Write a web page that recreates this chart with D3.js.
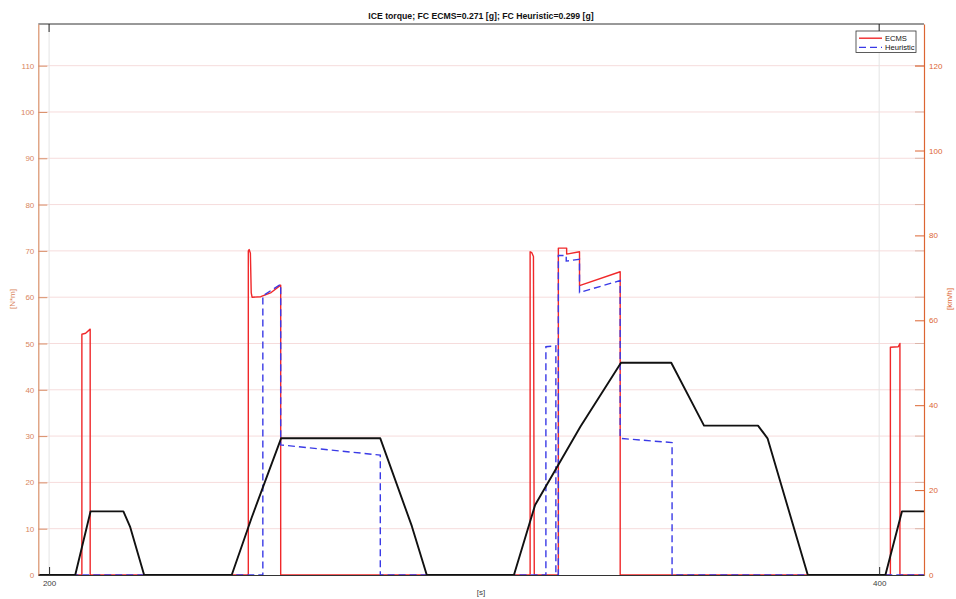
<!DOCTYPE html>
<html>
<head>
<meta charset="utf-8">
<script src="https://cdn.jsdelivr.net/npm/d3@7/dist/d3.min.js"></script>
<style>
  html, body { margin: 0; padding: 0; background: #ffffff; }
  svg { display: block; font-family: "Liberation Sans", Arial, Helvetica, sans-serif; }
</style>
</head>
<body>
<svg id="chart" width="956" height="599"></svg>
<script>
// ---- data -------------------------------------------------------------
const title = "ICE torque; FC ECMS=0.271 [g]; FC Heuristic=0.299 [g]";
const xDomain = [197.4, 410.8];
const xTicks = [200, 400];
const leftTicks = [0, 10, 20, 30, 40, 50, 60, 70, 80, 90, 100, 110];
const rightTicks = [0, 20, 40, 60, 80, 100, 120];
const leftMax = 119;
const rightMax = 129.8;

// ICE torque, ECMS strategy [N*m]
const ecmsTime   = [197.4, 207.9, 207.9, 208.8, 209.9, 209.9,
                    248.0, 248.0, 248.2, 248.5, 248.7, 248.9, 251.0, 253.5, 255.8, 255.8,
                    315.9, 315.9, 316.3, 316.7, 316.9,
                    322.7, 322.7, 324.7, 324.7, 327.8, 327.8, 337.6, 337.6,
                    402.7, 402.7, 404.6, 405.0, 405.0, 410.8];
const ecmsTorque = [0, 0, 52.0, 52.2, 53.1, 0,
                    0, 70.0, 70.3, 69.5, 61.0, 60.0, 60.1, 61.0, 62.6, 0,
                    0, 69.8, 69.6, 68.8, 0,
                    0, 70.6, 70.6, 69.3, 69.8, 62.5, 65.5, 0,
                    0, 49.2, 49.3, 50.0, 0, 0];

// ICE torque, heuristic strategy [N*m]
const heurTime   = [197.4, 251.5, 251.5, 255.8, 255.8, 279.8, 279.8,
                    319.7, 319.7, 322.1, 322.1, 322.7, 322.7, 324.6, 324.6, 327.8, 327.8,
                    337.6, 337.6, 350.1, 350.1, 410.8];
const heurTorque = [0, 0, 60.3, 62.8, 28.1, 25.9, 0,
                    0, 49.3, 49.5, 0, 0, 69.0, 69.0, 67.8, 68.2, 61.0,
                    63.6, 29.5, 28.6, 0, 0];

// vehicle speed [km/h]
const speedTime  = [197.4, 206.3, 210.0, 217.9, 219.5, 222.9,
                    244.0, 248.8, 255.9, 279.8, 287.4, 291.0,
                    312.0, 317.1, 328.0, 337.8, 349.9, 357.8, 370.8, 373.1, 382.8,
                    401.5, 405.5, 410.8];
const speedKmh   = [0, 0, 15, 15, 11.4, 0,
                    0, 13.5, 32.2, 32.2, 11.5, 0,
                    0, 16.5, 34.9, 50, 50, 35.2, 35.2, 32.2, 0,
                    0, 15, 15];

// ---- layout -----------------------------------------------------------
const plot = { left: 38.3, right: 924, top: 24, bottom: 575 };
const leftColor = "#d9906a";
const leftText = "#d98660";
const rightColor = "#dc6532";
const tickFont = 8;

const svg = d3.select("#chart");

const x = d3.scaleLinear().domain(xDomain).range([plot.left, plot.right]);
const yL = d3.scaleLinear().domain([0, leftMax]).range([plot.bottom, plot.top]);
const yR = d3.scaleLinear().domain([0, rightMax]).range([plot.bottom, plot.top]);

// grid
const grid = svg.append("g");
grid.selectAll("line.hg").data(leftTicks.filter(d => d > 0)).join("line")
  .attr("x1", plot.left).attr("x2", plot.right)
  .attr("y1", d => yL(d)).attr("y2", d => yL(d))
  .attr("stroke", "#f6dcdc").attr("stroke-width", 1);
grid.selectAll("line.vg").data(xTicks).join("line")
  .attr("x1", d => x(d)).attr("x2", d => x(d))
  .attr("y1", plot.top).attr("y2", plot.bottom)
  .attr("stroke", "#e4e4e4").attr("stroke-width", 1);

// mirrored left-axis ticks on the right edge
grid.selectAll("line.mt").data(leftTicks.filter(d => d > 0)).join("line")
  .attr("x1", plot.right - 9).attr("x2", plot.right)
  .attr("y1", d => yL(d)).attr("y2", d => yL(d))
  .attr("stroke", "#ddb5a8").attr("stroke-width", 1);

// top frame line and top ticks
svg.append("line")
  .attr("x1", plot.left).attr("x2", plot.right)
  .attr("y1", plot.top).attr("y2", plot.top)
  .attr("stroke", "#333333").attr("stroke-width", 1);
svg.append("g").selectAll("line").data(xTicks).join("line")
  .attr("x1", d => x(d)).attr("x2", d => x(d))
  .attr("y1", plot.top).attr("y2", plot.top + 8)
  .attr("stroke", "#262626").attr("stroke-width", 1);

// series
const lineOf = (ts, vs, ys) => d3.line()
  .x((d, i) => x(ts[i]))
  .y((d, i) => ys(vs[i]))(vs);

svg.append("path")
  .attr("d", lineOf(ecmsTime, ecmsTorque, yL))
  .attr("fill", "none").attr("stroke", "#f0282a").attr("stroke-width", 1.4)
  .attr("stroke-linejoin", "round");

svg.append("path")
  .attr("d", lineOf(heurTime, heurTorque, yL))
  .attr("fill", "none").attr("stroke", "#3a3ae6").attr("stroke-width", 1.4)
  .attr("stroke-dasharray", "7,4");

svg.append("path")
  .attr("d", lineOf(speedTime, speedKmh, yR))
  .attr("fill", "none").attr("stroke", "#111111").attr("stroke-width", 1.9)
  .attr("stroke-linejoin", "round");

// axes
const axL = svg.append("g")
  .attr("transform", `translate(${plot.left},0)`)
  .call(d3.axisLeft(yL).tickValues(leftTicks).tickSize(-9).tickPadding(4).tickSizeOuter(0));
axL.select(".domain").attr("stroke", leftColor).attr("stroke-width", 1.2);
axL.selectAll(".tick line").attr("stroke", leftColor);
axL.selectAll(".tick text").attr("fill", leftText).attr("font-size", tickFont)
  .attr("font-family", "Liberation Sans, Arial, sans-serif");

const axR = svg.append("g")
  .attr("transform", `translate(${plot.right},0)`)
  .call(d3.axisRight(yR).tickValues(rightTicks).tickSize(-9).tickPadding(5).tickSizeOuter(0));
axR.select(".domain").attr("stroke", rightColor).attr("stroke-width", 1.2);
axR.selectAll(".tick line").attr("stroke", rightColor);
axR.selectAll(".tick text").attr("fill", rightColor).attr("font-size", tickFont)
  .attr("font-family", "Liberation Sans, Arial, sans-serif");

const axB = svg.append("g")
  .attr("transform", `translate(0,${plot.bottom})`)
  .call(d3.axisBottom(x).tickValues(xTicks).tickSize(-8).tickPadding(5).tickSizeOuter(0));
axB.select(".domain").attr("stroke", "#333333").attr("stroke-width", 1);
axB.selectAll(".tick line").attr("stroke", "#262626");
axB.selectAll(".tick text").attr("fill", "#404040").attr("font-size", tickFont)
  .attr("font-family", "Liberation Sans, Arial, sans-serif");

// titles and labels
svg.append("text")
  .attr("x", 481).attr("y", 19)
  .attr("text-anchor", "middle").attr("font-weight", "bold").attr("font-size", 8.7)
  .attr("fill", "#111111").text(title);

svg.append("text")
  .attr("x", 481).attr("y", 595)
  .attr("text-anchor", "middle").attr("font-size", tickFont).attr("fill", "#404040")
  .text("[s]");

svg.append("text")
  .attr("transform", "translate(15,299) rotate(-90)")
  .attr("text-anchor", "middle").attr("font-size", tickFont).attr("fill", leftText)
  .text("[N*m]");

svg.append("text")
  .attr("transform", "translate(952,299) rotate(-90)")
  .attr("text-anchor", "middle").attr("font-size", tickFont).attr("fill", rightColor)
  .text("[km/h]");

// legend
const lg = svg.append("g").attr("transform", "translate(856,31)");
lg.append("rect").attr("width", 60).attr("height", 21.5)
  .attr("fill", "#ffffff").attr("stroke", "#333333").attr("stroke-width", 0.8);
const legendItems = [
  { name: "ECMS", color: "#f0282a", dash: null },
  { name: "Heuristic", color: "#3a3ae6", dash: "7,4" }
];
legendItems.forEach((it, i) => {
  const cy = 7.2 + i * 9.2;
  lg.append("line").attr("x1", 3).attr("x2", 26).attr("y1", cy).attr("y2", cy)
    .attr("stroke", it.color).attr("stroke-width", 1.4)
    .attr("stroke-dasharray", it.dash);
  lg.append("text").attr("x", 29).attr("y", cy).attr("dy", "0.35em")
    .attr("font-size", 7.6).attr("fill", "#111111").text(it.name);
});
</script>
</body>
</html>
